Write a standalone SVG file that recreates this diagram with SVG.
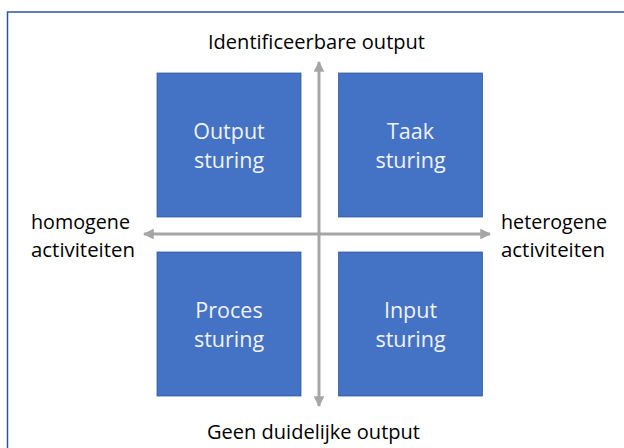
<svg xmlns="http://www.w3.org/2000/svg" width="624" height="448" viewBox="0 0 624 448">
<style>
.box{fill:#4472C4;stroke:#2F5597;stroke-width:0.75}
.bt{font-family:"Open Sans","Noto Sans",sans-serif;font-size:21.5px;fill:#F2F2F2;text-anchor:middle}
.lbl{font-family:"Open Sans","Noto Sans",sans-serif;font-size:19.5px;fill:#000}
.ax{stroke:#A6A6A6;stroke-width:3;fill:none}
</style>
<defs>
<marker id="ah" viewBox="0 0 10 10" refX="9" refY="5" markerWidth="3.6" markerHeight="3.6" orient="auto" markerUnits="strokeWidth">
<path d="M0,0 L10,5 L0,10 z" fill="#A6A6A6"/>
</marker>
</defs>
<rect x="7.5" y="12" width="630" height="450" fill="#fff" stroke="#2F5597" stroke-width="1.5"/>
<g id="connectors">
<line class="ax" x1="319" y1="234" x2="319" y2="62" marker-end="url(#ah)"/>
<line class="ax" x1="319" y1="234" x2="319" y2="406" marker-end="url(#ah)"/>
<line class="ax" x1="319" y1="234" x2="144" y2="234" marker-end="url(#ah)"/>
<line class="ax" x1="319" y1="234" x2="490" y2="234" marker-end="url(#ah)"/>
</g>
<g id="output-sturing">
<rect class="box" x="157" y="73" width="144" height="144"/>
<text class="bt" x="229" y="139">Output</text>
<text class="bt" x="229" y="168">sturing</text>
</g>
<g id="taak-sturing">
<rect class="box" x="338.5" y="73" width="144" height="144"/>
<text class="bt" x="410.5" y="139">Taak</text>
<text class="bt" x="410.5" y="168">sturing</text>
</g>
<g id="proces-sturing">
<rect class="box" x="157" y="252" width="144" height="144"/>
<text class="bt" x="229" y="318">Proces</text>
<text class="bt" x="229" y="347">sturing</text>
</g>
<g id="input-sturing">
<rect class="box" x="338.5" y="252" width="144" height="144"/>
<text class="bt" x="410.5" y="318">Input</text>
<text class="bt" x="410.5" y="347">sturing</text>
</g>
<g id="labels">
<text class="lbl" x="208" y="49" textLength="217" lengthAdjust="spacingAndGlyphs">Identificeerbare output</text>
<text class="lbl" x="207" y="439" textLength="213" lengthAdjust="spacingAndGlyphs">Geen duidelijke output</text>
<text class="lbl" x="31" y="229" textLength="99" lengthAdjust="spacingAndGlyphs">homogene</text>
<text class="lbl" x="31" y="257" textLength="104" lengthAdjust="spacingAndGlyphs">activiteiten</text>
<text class="lbl" x="501" y="229" textLength="106" lengthAdjust="spacingAndGlyphs">heterogene</text>
<text class="lbl" x="501" y="257" textLength="104" lengthAdjust="spacingAndGlyphs">activiteiten</text>
</g>
</svg>
